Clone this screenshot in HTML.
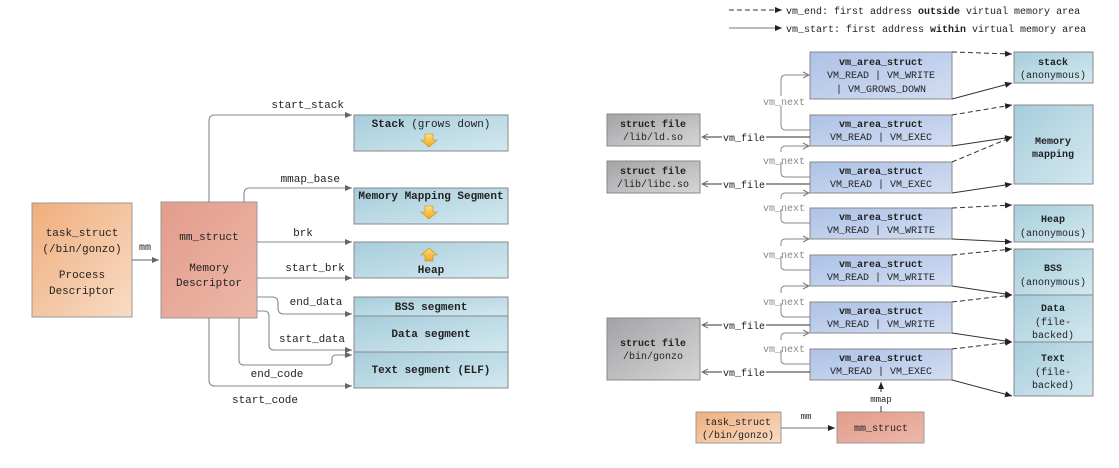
<!DOCTYPE html>
<html><head><style>
body{margin:0;background:#fff}
text{font-family:"Liberation Mono",monospace;font-size:11px;fill:#222}
.b{font-weight:bold}
.g{fill:#888}
</style></head><body>
<svg width="1119" height="463" viewBox="0 0 1119 463" xmlns="http://www.w3.org/2000/svg">
<defs>
<linearGradient id="or" x1="0" y1="0" x2="1" y2="1"><stop offset="0" stop-color="#efae7c"/><stop offset="1" stop-color="#f8dcc6"/></linearGradient>
<linearGradient id="rd" x1="0" y1="0" x2="1" y2="1"><stop offset="0" stop-color="#e39c8c"/><stop offset="1" stop-color="#ecb7a8"/></linearGradient>
<linearGradient id="bl" x1="0" y1="0" x2="1" y2="1"><stop offset="0" stop-color="#a6cddb"/><stop offset="1" stop-color="#d3e8f0"/></linearGradient>
<linearGradient id="vb" x1="0" y1="0" x2="1" y2="1"><stop offset="0" stop-color="#adc2e6"/><stop offset="1" stop-color="#d2ddf2"/></linearGradient>
<linearGradient id="gr" x1="0" y1="0" x2="1" y2="1"><stop offset="0" stop-color="#a3a3a5"/><stop offset="1" stop-color="#d6d6d8"/></linearGradient>
<linearGradient id="yl" x1="0" y1="0" x2="0" y2="1"><stop offset="0" stop-color="#fde07a"/><stop offset="1" stop-color="#f2a81c"/></linearGradient>
<marker id="a" markerWidth="8" markerHeight="8" refX="7" refY="4" orient="auto" markerUnits="userSpaceOnUse"><path d="M0,1 L7,4 L0,7 Z" fill="#666"/></marker>
<marker id="k" markerWidth="8" markerHeight="8" refX="7" refY="4" orient="auto" markerUnits="userSpaceOnUse"><path d="M0,1 L7,4 L0,7 Z" fill="#222"/></marker>
<marker id="o" markerWidth="8" markerHeight="8" refX="7" refY="4" orient="auto" markerUnits="userSpaceOnUse"><path d="M1,1 L7,4 L1,7" fill="none" stroke="#777"/></marker>
</defs>

<!-- LEFT -->
<rect x="32" y="203" width="100" height="114" fill="url(#or)" stroke="#999"/>
<text x="82" y="236" text-anchor="middle">task_struct</text>
<text x="82" y="252" text-anchor="middle">(/bin/gonzo)</text>
<text x="82" y="278" text-anchor="middle">Process</text>
<text x="82" y="294" text-anchor="middle">Descriptor</text>
<line x1="132" y1="260" x2="159" y2="260" stroke="#667" marker-end="url(#a)"/>
<text x="145" y="250" text-anchor="middle" style="font-size:10px">mm</text>

<rect x="161" y="202" width="96" height="116" fill="url(#rd)" stroke="#999"/>
<text x="209" y="240" text-anchor="middle">mm_struct</text>
<text x="209" y="271" text-anchor="middle">Memory</text>
<text x="209" y="286" text-anchor="middle">Descriptor</text>

<g fill="url(#bl)" stroke="#888">
<rect x="354" y="115" width="154" height="36"/>
<rect x="354" y="188" width="154" height="36"/>
<rect x="354" y="242" width="154" height="36"/>
<rect x="354" y="297" width="154" height="19"/>
<rect x="354" y="316" width="154" height="36"/>
<rect x="354" y="352" width="154" height="36"/>
</g>
<text x="431" y="127" text-anchor="middle"><tspan class="b">Stack</tspan> (grows down)</text>
<text x="431" y="199" text-anchor="middle" class="b">Memory Mapping Segment</text>
<text x="431" y="273" text-anchor="middle" class="b">Heap</text>
<text x="431" y="310" text-anchor="middle" class="b">BSS segment</text>
<text x="431" y="337" text-anchor="middle" class="b">Data segment</text>
<text x="431" y="373" text-anchor="middle" class="b">Text segment (ELF)</text>
<path d="M425,134 h8 v6 h4 l-8,7 l-8,-7 h4 z" fill="url(#yl)" stroke="#c98a10" stroke-width="0.6"/>
<path d="M425,206 h8 v6 h4 l-8,7 l-8,-7 h4 z" fill="url(#yl)" stroke="#c98a10" stroke-width="0.6"/>
<path d="M425,261 h8 v-6 h4 l-8,-7 l-8,7 h4 z" fill="url(#yl)" stroke="#c98a10" stroke-width="0.6"/>

<g fill="none" stroke="#888" stroke-width="1.1">
<path d="M209,202 V121 q0,-6 6,-6 H352" marker-end="url(#a)"/>
<path d="M244,202 V194 q0,-6 6,-6 H352" marker-end="url(#a)"/>
<path d="M257,242 H352" marker-end="url(#a)"/>
<path d="M257,278 H352" marker-end="url(#a)"/>
<path d="M257,297 H272 q6,0 6,6 v5 q0,6 6,6 H352" marker-end="url(#a)"/>
<path d="M257,311 H264 q5,0 5,5 v29 q0,5 5,5 H352" marker-end="url(#a)"/>
<path d="M239,318 V360 q0,5 5,5 H328 q4,0 4,-4 v-2 q0,-4 4,-4 H352" marker-end="url(#a)"/>
<path d="M209,318 V380 q0,6 6,6 H352" marker-end="url(#a)"/>
</g>
<text x="344" y="108" text-anchor="end">start_stack</text>
<text x="340" y="182" text-anchor="end">mmap_base</text>
<text x="303" y="236" text-anchor="middle">brk</text>
<text x="315" y="271" text-anchor="middle">start_brk</text>
<text x="316" y="305" text-anchor="middle">end_data</text>
<text x="312" y="342" text-anchor="middle">start_data</text>
<text x="277" y="377" text-anchor="middle">end_code</text>
<text x="265" y="403" text-anchor="middle">start_code</text>

<!-- RIGHT legend -->
<line x1="729" y1="10" x2="782" y2="10" stroke="#333" stroke-dasharray="5,3" marker-end="url(#k)"/>
<text x="786" y="14" style="font-size:10px">vm_end: first address <tspan class="b">outside</tspan> virtual memory area</text>
<line x1="729" y1="28" x2="782" y2="28" stroke="#777" marker-end="url(#k)"/>
<text x="786" y="32" style="font-size:10px">vm_start: first address <tspan class="b">within</tspan> virtual memory area</text>

<!-- targets -->
<g fill="url(#bl)" stroke="#888">
<rect x="1014" y="52" width="79" height="31"/>
<rect x="1014" y="105" width="79" height="79"/>
<rect x="1014" y="205" width="79" height="37"/>
<rect x="1014" y="249" width="79" height="46"/>
<rect x="1014" y="295" width="79" height="47"/>
<rect x="1014" y="342" width="79" height="54"/>
</g>
<g style="font-size:10px" text-anchor="middle">
<text x="1053" y="65" class="b" style="font-size:10px">stack</text>
<text x="1053" y="78" style="font-size:10px">(anonymous)</text>
<text x="1053" y="144" class="b" style="font-size:10px">Memory</text>
<text x="1053" y="157" class="b" style="font-size:10px">mapping</text>
<text x="1053" y="222" class="b" style="font-size:10px">Heap</text>
<text x="1053" y="236" style="font-size:10px">(anonymous)</text>
<text x="1053" y="271" class="b" style="font-size:10px">BSS</text>
<text x="1053" y="285" style="font-size:10px">(anonymous)</text>
<text x="1053" y="311" class="b" style="font-size:10px">Data</text>
<text x="1053" y="325" style="font-size:10px">(file-</text>
<text x="1053" y="338" style="font-size:10px">backed)</text>
<text x="1053" y="361" class="b" style="font-size:10px">Text</text>
<text x="1053" y="375" style="font-size:10px">(file-</text>
<text x="1053" y="388" style="font-size:10px">backed)</text>
</g>

<!-- vm_area boxes -->
<g fill="url(#vb)" stroke="#888">
<rect x="810" y="52" width="142" height="47"/>
<rect x="810" y="115" width="142" height="31"/>
<rect x="810" y="162" width="142" height="31"/>
<rect x="810" y="208" width="142" height="31"/>
<rect x="810" y="255" width="142" height="31"/>
<rect x="810" y="302" width="142" height="31"/>
<rect x="810" y="349" width="142" height="31"/>
</g>
<g text-anchor="middle" style="font-size:10px">
<text x="881" y="65" class="b" style="font-size:10px">vm_area_struct</text>
<text x="881" y="78" style="font-size:10px">VM_READ | VM_WRITE</text>
<text x="881" y="92" style="font-size:10px">| VM_GROWS_DOWN</text>
<text x="881" y="127" class="b" style="font-size:10px">vm_area_struct</text>
<text x="881" y="140" style="font-size:10px">VM_READ | VM_EXEC</text>
<text x="881" y="174" class="b" style="font-size:10px">vm_area_struct</text>
<text x="881" y="187" style="font-size:10px">VM_READ | VM_EXEC</text>
<text x="881" y="220" class="b" style="font-size:10px">vm_area_struct</text>
<text x="881" y="233" style="font-size:10px">VM_READ | VM_WRITE</text>
<text x="881" y="267" class="b" style="font-size:10px">vm_area_struct</text>
<text x="881" y="280" style="font-size:10px">VM_READ | VM_WRITE</text>
<text x="881" y="314" class="b" style="font-size:10px">vm_area_struct</text>
<text x="881" y="327" style="font-size:10px">VM_READ | VM_WRITE</text>
<text x="881" y="361" class="b" style="font-size:10px">vm_area_struct</text>
<text x="881" y="374" style="font-size:10px">VM_READ | VM_EXEC</text>
</g>

<!-- vm_next -->
<g fill="none" stroke="#888">
<path d="M810,130 H786 q-5,0 -5,-5 V80 q0,-5 5,-5 H809" marker-end="url(#o)"/>
<path d="M810,177 H786 q-5,0 -5,-4 V150 q0,-4 5,-4 H809" marker-end="url(#o)"/>
<path d="M810,223 H786 q-5,0 -5,-4 V197 q0,-4 5,-4 H809" marker-end="url(#o)"/>
<path d="M810,270 H786 q-5,0 -5,-4 V243 q0,-4 5,-4 H809" marker-end="url(#o)"/>
<path d="M810,317 H786 q-5,0 -5,-4 V290 q0,-4 5,-4 H809" marker-end="url(#o)"/>
<path d="M810,364 H786 q-5,0 -5,-4 V337 q0,-4 5,-4 H809" marker-end="url(#o)"/>
</g>
<g style="font-size:10px">
<rect x="762" y="96" width="44" height="10" fill="#fff"/>
<rect x="762" y="152" width="44" height="10" fill="#fff"/>
<rect x="762" y="199" width="44" height="10" fill="#fff"/>
<rect x="762" y="246" width="44" height="10" fill="#fff"/>
<rect x="762" y="293" width="44" height="10" fill="#fff"/>
<rect x="762" y="340" width="44" height="10" fill="#fff"/>
<text x="784" y="105" text-anchor="middle" class="g" style="font-size:10px">vm_next</text>
<text x="784" y="164" text-anchor="middle" class="g" style="font-size:10px">vm_next</text>
<text x="784" y="211" text-anchor="middle" class="g" style="font-size:10px">vm_next</text>
<text x="784" y="258" text-anchor="middle" class="g" style="font-size:10px">vm_next</text>
<text x="784" y="305" text-anchor="middle" class="g" style="font-size:10px">vm_next</text>
<text x="784" y="352" text-anchor="middle" class="g" style="font-size:10px">vm_next</text>
</g>

<!-- struct files -->
<g fill="url(#gr)" stroke="#888">
<rect x="607" y="114" width="93" height="32"/>
<rect x="607" y="161" width="93" height="32"/>
<rect x="607" y="318" width="93" height="62"/>
</g>
<g text-anchor="middle" style="font-size:10px">
<text x="653" y="127" class="b" style="font-size:10px">struct file</text>
<text x="653" y="140" style="font-size:10px">/lib/ld.so</text>
<text x="653" y="174" class="b" style="font-size:10px">struct file</text>
<text x="653" y="187" style="font-size:10px">/lib/libc.so</text>
<text x="653" y="346" class="b" style="font-size:10px">struct file</text>
<text x="653" y="359" style="font-size:10px">/bin/gonzo</text>
</g>
<g stroke="#333" fill="none">
<path d="M810,137 H766 M722,137 H702" marker-end="url(#o)"/>
<path d="M810,184 H766 M722,184 H702" marker-end="url(#o)"/>
<path d="M810,325 H766 M722,325 H702" marker-end="url(#o)"/>
<path d="M810,372 H766 M722,372 H702" marker-end="url(#o)"/>
</g>
<g style="font-size:10px">
<text x="744" y="141" text-anchor="middle" style="font-size:10px">vm_file</text>
<text x="744" y="188" text-anchor="middle" style="font-size:10px">vm_file</text>
<text x="744" y="329" text-anchor="middle" style="font-size:10px">vm_file</text>
<text x="744" y="376" text-anchor="middle" style="font-size:10px">vm_file</text>
</g>

<!-- vm_start / vm_end -->
<g stroke="#333" fill="none">
<g stroke-dasharray="5,3">
<path d="M952,52 L1012,54" marker-end="url(#k)"/>
<path d="M952,115 L1012,105" marker-end="url(#k)"/>
<path d="M952,162 L1012,137" marker-end="url(#k)"/>
<path d="M952,208 L1012,205" marker-end="url(#k)"/>
<path d="M952,255 L1012,249" marker-end="url(#k)"/>
<path d="M952,302 L1012,295" marker-end="url(#k)"/>
<path d="M952,349 L1012,342" marker-end="url(#k)"/>
</g>
<path d="M952,99 L1012,83" marker-end="url(#k)"/>
<path d="M952,146 L1012,137" marker-end="url(#k)"/>
<path d="M952,193 L1012,184" marker-end="url(#k)"/>
<path d="M952,239 L1012,242" marker-end="url(#k)"/>
<path d="M952,286 L1012,295" marker-end="url(#k)"/>
<path d="M952,333 L1012,342" marker-end="url(#k)"/>
<path d="M952,380 L1012,396" marker-end="url(#k)"/>
</g>

<!-- bottom -->
<rect x="696" y="412" width="85" height="31" fill="url(#or)" stroke="#999"/>
<text x="738" y="425" text-anchor="middle" style="font-size:10px">task_struct</text>
<text x="738" y="438" text-anchor="middle" style="font-size:10px">(/bin/gonzo)</text>
<rect x="837" y="412" width="87" height="31" fill="url(#rd)" stroke="#999"/>
<text x="881" y="431" text-anchor="middle" style="font-size:10px">mm_struct</text>
<line x1="781" y1="428" x2="835" y2="428" stroke="#777" marker-end="url(#k)"/>
<text x="806" y="419" text-anchor="middle" style="font-size:9px">mm</text>
<line x1="881" y1="412" x2="881" y2="406" stroke="#333"/>
<line x1="881" y1="392" x2="881" y2="382" stroke="#333" marker-end="url(#k)"/>
<text x="881" y="402" text-anchor="middle" style="font-size:9px">mmap</text>
</svg>
</body></html>
